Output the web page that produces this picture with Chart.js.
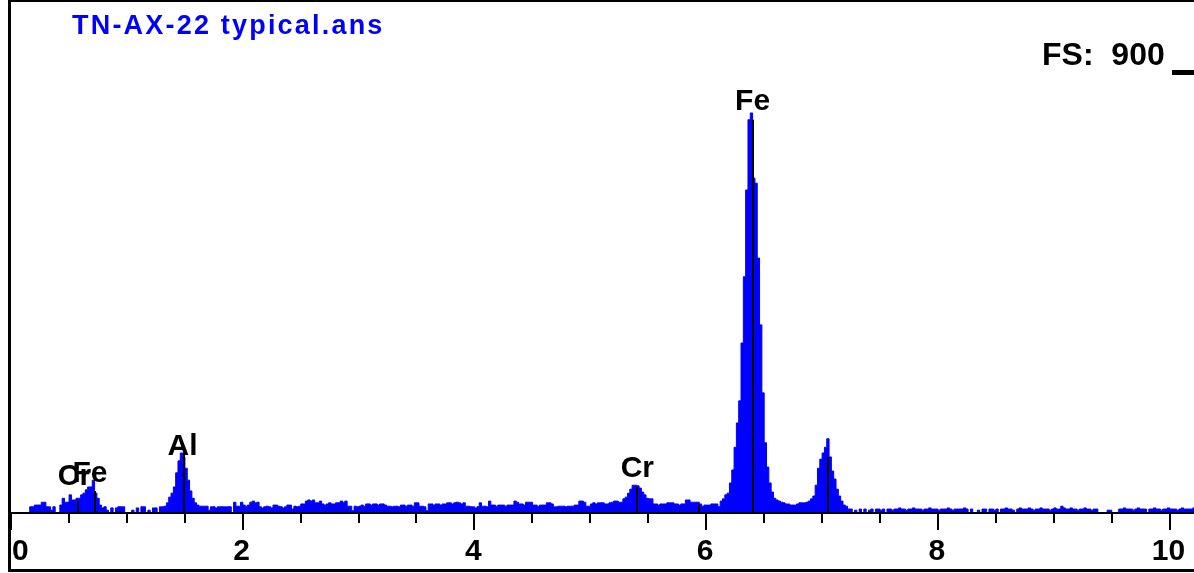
<!DOCTYPE html>
<html>
<head>
<meta charset="utf-8">
<title>TN-AX-22 typical.ans</title>
<script src="https://cdn.jsdelivr.net/npm/chart.js@4.4.1/dist/chart.umd.min.js"></script>
<style>
    html, body { margin: 0; padding: 0; background: #fff; }
    canvas { display: block; }
</style>
</head>
<body>
<canvas id="spectrum" width="1194" height="573"></canvas>
<script>
// EDS spectrum, 20 eV per channel, counts
const keVPerChannel = 0.02;
const fullScale = 900;

const counts = [
    // ch 0-8
    0, 0, 0, 0, 0, 0, 0, 0, 0,
    // ch 9-21
    11, 11, 14, 14, 14, 19, 19, 11, 11, 5, 11, 0, 0,
    // ch 22-38 (Cr L / Fe L)
    14, 26, 19, 19, 32, 23, 23, 26, 26, 32, 35, 41, 46, 46, 58, 35, 26,
    // ch 39-50
    14, 9, 11, 5, 0, 9, 0, 9, 11, 11, 11, 0,
    // ch 51-66
    0, 0, 5, 0, 9, 0, 11, 11, 0, 5, 0, 9, 9, 0, 11, 11,
    // ch 67-82 (Al K)
    12, 18, 28, 35, 46, 71, 92, 106, 99, 79, 58, 39, 26, 18, 14, 12,
    // ch 83-99
    12, 12, 12, 5, 11, 11, 9, 11, 11, 11, 11, 11, 11, 0, 19, 12, 12,
    // ch 100-127
    19, 14, 12, 14, 19, 21, 18, 19, 11, 9, 11, 12, 11, 9, 14, 14, 12, 11, 9, 11, 14, 14, 7, 12, 11, 12, 16, 16,
    // ch 128-157
    21, 23, 21, 23, 18, 18, 21, 16, 14, 16, 18, 16, 16, 18, 18, 21, 19, 21, 12, 12, 4, 12, 11, 12, 14, 12, 16, 16, 14, 16,
    // ch 158-188
    16, 14, 16, 16, 14, 12, 12, 11, 12, 12, 11, 14, 14, 12, 14, 14, 12, 18, 18, 12, 12, 11, 4, 16, 16, 14, 16, 16, 14, 16, 16,
    // ch 189-217
    18, 18, 16, 18, 19, 18, 16, 18, 12, 12, 11, 11, 9, 11, 18, 12, 12, 11, 21, 14, 14, 12, 14, 14, 14, 12, 14, 14, 14,
    // ch 218-250
    21, 19, 16, 16, 14, 19, 19, 19, 14, 14, 12, 14, 14, 14, 18, 18, 16, 11, 11, 12, 12, 12, 11, 12, 12, 12, 14, 14, 21, 21, 19, 12, 12,
    // ch 251-297 (Cr K-alpha)
    16, 18, 16, 18, 18, 18, 16, 16, 18, 19, 21, 21, 19, 19, 25, 28, 35, 42, 49, 49, 48, 44, 37, 32, 26,
    25, 25, 16, 16, 14, 16, 16, 16, 18, 18, 18, 16, 16, 14, 16, 16, 23, 23, 19, 19, 19, 19,
    // ch 298-305
    16, 12, 14, 14, 14, 16, 16, 16,
    // ch 306-337 (Fe K-alpha)
    11, 21, 25, 32, 35, 53, 76, 116, 159, 198, 300, 417, 570, 694, 706, 591,
    582, 450, 332, 212, 124, 81, 53, 37, 26, 23, 21, 19, 18, 16, 16, 14,
    // ch 338-363 (Fe K-beta)
    14, 14, 16, 18, 18, 18, 19, 21, 25, 30, 49, 79, 95, 106, 116, 131, 99, 74, 60, 42, 30, 21, 14, 12, 7, 7,
    // ch 364-381
    0, 5, 0, 7, 0, 7, 0, 5, 7, 0, 7, 7, 5, 7, 0, 7, 7, 5,
    // ch 382-415
    7, 7, 9, 7, 7, 5, 7, 7, 9, 7, 7, 7, 5, 7, 7, 9, 7, 7, 7, 5, 7, 7, 7, 9, 7, 5, 7, 7, 7, 7, 9, 7, 0, 7,
    // ch 416-434
    0, 0, 5, 0, 7, 7, 0, 7, 7, 5, 7, 0, 7, 7, 9, 7, 7, 5, 0,
    // ch 435-455
    7, 9, 7, 7, 7, 9, 7, 5, 7, 7, 9, 7, 7, 7, 5, 7, 9, 7, 7, 12, 9,
    // ch 456-478
    7, 7, 9, 7, 7, 5, 7, 7, 9, 7, 7, 5, 7, 7, 0, 0, 0, 0, 5, 5, 0, 0, 0,
    // ch 479-511
    7, 7, 9, 7, 7, 7, 5, 7, 9, 7, 7, 7, 0, 7, 7, 9, 7, 7, 5, 7, 7, 9, 7, 7, 7, 5, 7, 9, 7, 7, 7, 7, 9,
];

// element marker lines (keV, height in counts)
const markerEnergy = [0.585, 0.73, 1.50, 5.415, 5.95, 6.41, 7.06];
const markerCounts = [21, 39, 106, 46, 14, 694, 99];

// element labels (text, keV of centre, counts at baseline)
const labelText = ['Cr', 'Fe', 'Al', 'Cr', 'Fe'];
const labelEnergy = [0.557, 0.69, 1.49, 5.415, 6.41];
const labelCounts = [49, 55, 102, 64, 711];

// energy axis
const majorTicks = [0, 2, 4, 6, 8, 10];
const minorTicks = [0.5, 1, 1.5, 2.5, 3, 3.5, 4.5, 5, 5.5, 6.5, 7, 7.5, 8.5, 9, 9.5];
const tickLabels = ['0', '2', '4', '6', '8', '10'];

const titleText = 'TN-AX-22 typical.ans';
const scaleText = 'FS:  900';

const FONT = '"Liberation Sans", Arial, sans-serif';

const spectrumPoints = counts.map((c, ch) => ({ x: ch * keVPerChannel, y: c }));

// draws the frame, energy axis, markers and texts round the spectrum
const decorPlugin = {
    id: 'edsDecor',
    beforeDraw(chart) {
        const ctx = chart.ctx;
        ctx.save();
        ctx.fillStyle = '#ffffff';
        ctx.fillRect(0, 0, chart.width, chart.height);
        ctx.restore();
    },
    afterDatasetsDraw(chart) {
        const ctx = chart.ctx;
        const x = chart.scales.x;
        const y = chart.scales.y;
        ctx.save();

        // marker lines
        ctx.strokeStyle = '#000000';
        ctx.lineWidth = 2;
        markerEnergy.forEach((e, i) => {
            const px = Math.round(x.getPixelForValue(e));
            ctx.beginPath();
            ctx.moveTo(px, y.getPixelForValue(0));
            ctx.lineTo(px, y.getPixelForValue(markerCounts[i]));
            ctx.stroke();
        });

        // labels
        ctx.fillStyle = '#000000';
        ctx.font = `bold 30px ${FONT}`;
        ctx.textAlign = 'center';
        ctx.textBaseline = 'alphabetic';
        labelText.forEach((t, i) => {
            ctx.fillText(t, x.getPixelForValue(labelEnergy[i]), y.getPixelForValue(labelCounts[i]));
        });
        ctx.restore();
    },
    afterDraw(chart) {
        const ctx = chart.ctx;
        const x = chart.scales.x;
        const area = chart.chartArea;
        const base = area.bottom;
        ctx.save();

        // axis line
        ctx.strokeStyle = '#000000';
        ctx.lineWidth = 2;
        ctx.beginPath();
        ctx.moveTo(area.left, base);
        ctx.lineTo(chart.width, base);
        ctx.stroke();

        // ticks
        minorTicks.forEach((v) => {
            const px = Math.round(x.getPixelForValue(v)) + 1;
            ctx.beginPath();
            ctx.moveTo(px, base);
            ctx.lineTo(px, base + 10);
            ctx.stroke();
        });
        majorTicks.forEach((v) => {
            const px = Math.round(x.getPixelForValue(v)) + 1;
            ctx.beginPath();
            ctx.moveTo(px, base);
            ctx.lineTo(px, base + 17);
            ctx.stroke();
        });

        // tick labels
        ctx.fillStyle = '#000000';
        ctx.font = `bold 30px ${FONT}`;
        ctx.textBaseline = 'alphabetic';
        majorTicks.forEach((v, i) => {
            const px = x.getPixelForValue(v);
            const w = ctx.measureText(tickLabels[i]).width;
            const left = Math.max(px - w / 2, area.left + 2);
            ctx.textAlign = 'left';
            ctx.fillText(tickLabels[i], left, base + 47);
        });

        // frame
        ctx.fillRect(8, 0, 3, chart.height - 1);
        ctx.fillRect(8, 0, chart.width - 8, 2);
        ctx.fillRect(8, chart.height - 4, chart.width - 8, 3);

        // file name
        ctx.fillStyle = '#0000ff';
        ctx.font = `bold 27px ${FONT}`;
        ctx.textAlign = 'left';
        ctx.letterSpacing = '2.2px';
        ctx.fillText(titleText, 72, 34);
        ctx.letterSpacing = '0px';

        // full scale readout and cursor
        ctx.fillStyle = '#000000';
        ctx.font = `bold 32px ${FONT}`;
        ctx.fillText(scaleText, 1042, 65);
        ctx.fillRect(1172, 70, 22, 5);

        ctx.restore();
    },
};

new Chart(document.getElementById('spectrum'), {
    type: 'line',
    data: {
        datasets: [
            {
                label: 'counts',
                data: spectrumPoints,
                stepped: 'middle',
                fill: 'origin',
                borderColor: '#0000ff',
                backgroundColor: '#0000ff',
                borderWidth: 1,
                pointRadius: 0,
            },
        ],
    },
    options: {
        responsive: false,
        devicePixelRatio: 1,
        animation: false,
        layout: { padding: { top: 3, left: 10, right: 0, bottom: 60 } },
        plugins: {
            legend: { display: false },
            title: { display: false },
            tooltip: { enabled: false },
        },
        scales: {
            x: { type: 'linear', min: 0, max: 10.22, display: false },
            y: { min: 0, max: fullScale, display: false },
        },
    },
    plugins: [decorPlugin],
});
</script>
</body>
</html>
